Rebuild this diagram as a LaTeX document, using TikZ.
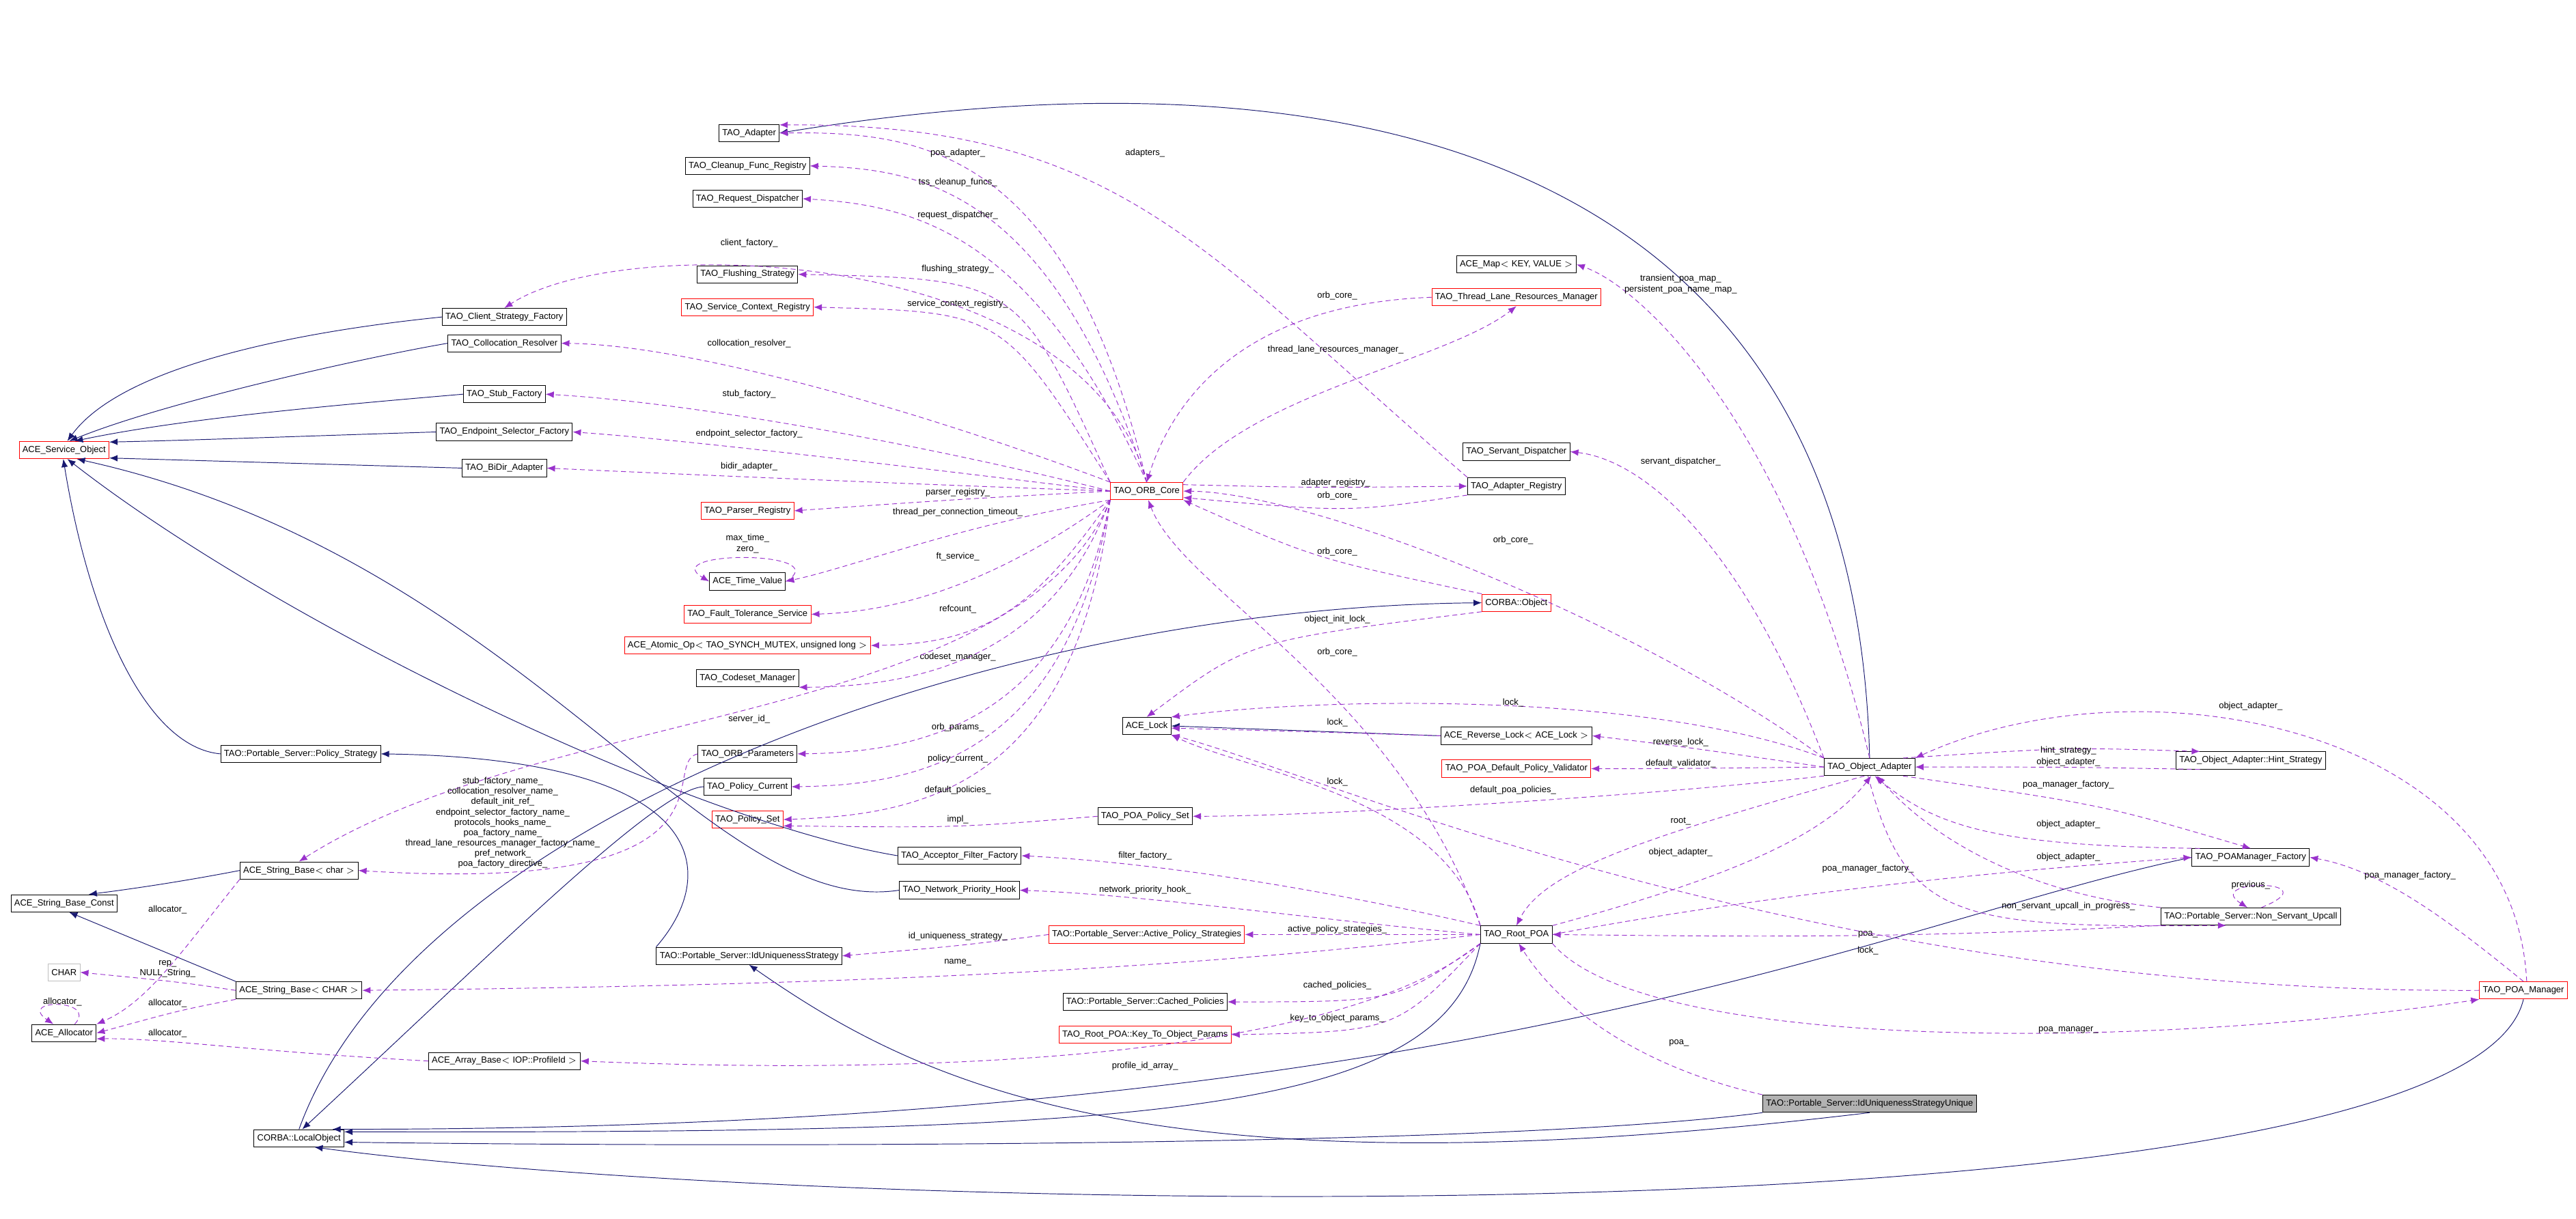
\documentclass[tikz,border=0pt]{standalone}
\usepackage{fontspec}
\setmainfont{Liberation Sans}
\usetikzlibrary{arrows.meta}

\definecolor{isablue}{RGB}{25,25,112}
\definecolor{usesviolet}{RGB}{153,50,204}
\tikzset{
	cls/.style={draw, font=\fontsize{5.4}{6}\selectfont, inner xsep=2pt, inner ysep=1pt, minimum height=10.5pt, line width=0.4pt},
	redcls/.style={cls, draw=red},
	greycls/.style={cls, draw=gray!50},
	curcls/.style={cls, fill=gray!60},
	isa/.style={draw=isablue, line width=0.4pt, -{Latex[length=5pt,width=4pt]}},
	uses/.style={draw=usesviolet, line width=0.4pt, dash pattern=on 3pt off 2pt, -{Latex[length=5pt,width=4pt]}},
	lbl/.style={font=\fontsize{5.4}{6.3}\selectfont, inner sep=0.5pt, align=center}
}

\begin{document}
\begin{tikzpicture}[x=1pt,y=-1pt]
		\useasboundingbox (0,0) rectangle (1568,742);
		% classes, left part
		\node[redcls] (sobj) at (39,274) {ACE\_Service\_Object};
		\node[cls] (csf) at (307,193) {TAO\_Client\_Strategy\_Factory};
		\node[cls] (colres) at (307,209) {TAO\_Collocation\_Resolver};
		\node[cls] (stubf) at (307,240) {TAO\_Stub\_Factory};
		\node[cls] (esf) at (307,263) {TAO\_Endpoint\_Selector\_Factory};
		\node[cls] (bidir) at (307,285) {TAO\_BiDir\_Adapter};
		\node[cls] (pstrat) at (183,459) {TAO::Portable\_Server::Policy\_Strategy};
		\node[cls] (sbchar) at (182,530) {ACE\_String\_Base$<$ char $>$};
		\node[cls] (sbconst) at (39,550) {ACE\_String\_Base\_Const};
		\node[greycls] (chr) at (39,592) {CHAR};
		\node[cls] (sbCHAR) at (182,603) {ACE\_String\_Base$<$ CHAR $>$};
		\node[cls] (alloc) at (39,629) {ACE\_Allocator};
		\node[cls] (arrb) at (307,646) {ACE\_Array\_Base$<$ IOP::ProfileId $>$};
		\node[cls] (lobj) at (182,693) {CORBA::LocalObject};
		% classes, second column
		\node[cls] (adapter) at (456,81) {TAO\_Adapter};
		\node[cls] (cleanup) at (455,101) {TAO\_Cleanup\_Func\_Registry};
		\node[cls] (reqdisp) at (455,121) {TAO\_Request\_Dispatcher};
		\node[cls] (flush) at (455,167) {TAO\_Flushing\_Strategy};
		\node[redcls] (scr) at (455,187) {TAO\_Service\_Context\_Registry};
		\node[redcls] (parser) at (455,311) {TAO\_Parser\_Registry};
		\node[cls] (tval) at (455,354) {ACE\_Time\_Value};
		\node[redcls] (ftserv) at (455,374) {TAO\_Fault\_Tolerance\_Service};
		\node[redcls] (atomic) at (455,393) {ACE\_Atomic\_Op$<$ TAO\_SYNCH\_MUTEX, unsigned long $>$};
		\node[cls] (codeset) at (455,413) {TAO\_Codeset\_Manager};
		\node[cls] (orbparams) at (455,459) {TAO\_ORB\_Parameters};
		\node[cls] (polcur) at (455,479) {TAO\_Policy\_Current};
		\node[redcls] (polset) at (455,499) {TAO\_Policy\_Set};
		\node[cls] (idus) at (456,582) {TAO::Portable\_Server::IdUniquenessStrategy};
		\node[cls] (aff) at (584,521) {TAO\_Acceptor\_Filter\_Factory};
		\node[cls] (nph) at (584,542) {TAO\_Network\_Priority\_Hook};
		% classes, middle
		\node[redcls] (core) at (698,299) {TAO\_ORB\_Core};
		\node[cls] (lock) at (698,442) {ACE\_Lock};
		\node[cls] (poaps) at (697,497) {TAO\_POA\_Policy\_Set};
		\node[redcls] (aps) at (698,569) {TAO::Portable\_Server::Active\_Policy\_Strategies};
		\node[cls] (cached) at (697,610) {TAO::Portable\_Server::Cached\_Policies};
		\node[redcls] (ktop) at (697,630) {TAO\_Root\_POA::Key\_To\_Object\_Params};
		\node[cls] (amap) at (923,161) {ACE\_Map$<$ KEY, VALUE $>$};
		\node[redcls] (tlrm) at (923,181) {TAO\_Thread\_Lane\_Resources\_Manager};
		\node[cls] (sdisp) at (923,275) {TAO\_Servant\_Dispatcher};
		\node[cls] (areg) at (923,296) {TAO\_Adapter\_Registry};
		\node[redcls] (cobj) at (923,367) {CORBA::Object};
		\node[cls] (rlock) at (923,448) {ACE\_Reverse\_Lock$<$ ACE\_Lock $>$};
		\node[redcls] (dpv) at (923,468) {TAO\_POA\_Default\_Policy\_Validator};
		\node[cls] (rpoa) at (923,569) {TAO\_Root\_POA};
		% classes, right part
		\node[cls] (oa) at (1138,467) {TAO\_Object\_Adapter};
		\node[curcls] (idusu) at (1138,672) {TAO::Portable\_Server::IdUniquenessStrategyUnique};
		\node[cls] (hint) at (1370,463) {TAO\_Object\_Adapter::Hint\_Strategy};
		\node[cls] (pmf) at (1370,522) {TAO\_POAManager\_Factory};
		\node[cls] (nsu) at (1370,558) {TAO::Portable\_Server::Non\_Servant\_Upcall};
		\node[redcls] (pman) at (1536,603) {TAO\_POA\_Manager};
		% inheritance
		\draw[isa] (csf.west) .. controls (220,198) and (80,215) .. (sobj.70);
		\draw[isa] (colres.west) .. controls (220,218) and (100,245) .. (sobj.60);
		\draw[isa] (stubf.west) .. controls (200,247) and (110,255) .. (sobj.40);
		\draw[isa] (esf.west) .. controls (200,265) and (120,268) .. (sobj.10);
		\draw[isa] (bidir.west) -- (sobj.-10);
		\draw[isa] (pstrat.west) .. controls (90,455) and (55,380) .. (sobj.-95);
		\draw[isa] (aff.west) .. controls (420,500) and (170,380) .. (sobj.-70);
		\draw[isa] (nph.west) .. controls (430,560) and (320,340) .. (sobj.-35);
		\draw[isa] (sbchar.west) .. controls (120,535) and (90,540) .. (sbconst.20);
		\draw[isa] (sbCHAR.north west) -- (sbconst.-60);
		\draw[isa] (oa.north) .. controls (1130,110) and (850,20) .. (adapter.east);
		\draw[isa] (rlock.west) -- (lock.east);
		\draw[isa] (idus.north west) .. controls (440,530) and (430,462) .. (pstrat.east);
		\draw[isa] (polcur.west) .. controls (400,480) and (300,580) .. (lobj.70);
		\draw[isa] (lobj.north) .. controls (250,500) and (600,370) .. (cobj.west);
		\draw[isa] (rpoa.south west) .. controls (880,680) and (700,690) .. (lobj.8);
		\draw[isa] (pmf.west) .. controls (1150,560) and (900,688) .. (lobj.15);
		\draw[isa] (idusu.south west) .. controls (900,700) and (400,698) .. (lobj.-5);
		\draw[isa] (pman.south) .. controls (1500,760) and (500,740) .. (lobj.-30);
		\draw[isa] (idusu.south) .. controls (700,730) and (560,660) .. (idus.south);
		% usage from the ORB core
		\draw[uses] (core.north) .. controls (650,90) and (560,80) .. (adapter.east);
		\node[lbl] (l1) at (583,93) {poa\_adapter\_};
		\draw[uses] (core.north) .. controls (640,115) and (560,103) .. (cleanup.east);
		\node[lbl] (l2) at (583,111) {tss\_cleanup\_funcs\_};
		\draw[uses] (core.north) .. controls (630,145) and (560,125) .. (reqdisp.east);
		\node[lbl] (l3) at (583,131) {request\_dispatcher\_};
		\draw[uses] (core.north) .. controls (660,150) and (380,140) .. (csf.north);
		\node[lbl] (l4) at (456,148) {client\_factory\_};
		\draw[uses] (core.north west) .. controls (620,170) .. (flush.east);
		\node[lbl] (l5) at (583,164) {flushing\_strategy\_};
		\draw[uses] (core.north west) .. controls (610,190) .. (scr.east);
		\node[lbl] (l6) at (583,185) {service\_context\_registry\_};
		\draw[uses] (core.north west) .. controls (560,250) and (420,210) .. (colres.east);
		\node[lbl] (l7) at (456,209) {collocation\_resolver\_};
		\draw[uses] (core.west) .. controls (560,270) and (420,245) .. (stubf.east);
		\node[lbl] (l8) at (456,240) {stub\_factory\_};
		\draw[uses] (core.west) .. controls (560,285) and (420,268) .. (esf.east);
		\node[lbl] (l9) at (456,264) {endpoint\_selector\_factory\_};
		\draw[uses] (core.west) .. controls (560,295) and (420,289) .. (bidir.east);
		\node[lbl] (l10) at (456,284) {bidir\_adapter\_};
		\draw[uses] (core.west) .. controls (583,304) .. (parser.east);
		\node[lbl] (l11) at (583,300) {parser\_registry\_};
		\draw[uses] (core.south west) .. controls (583,320) and (520,345) .. (tval.east);
		\node[lbl] (l12) at (583,312) {thread\_per\_connection\_timeout\_};
		\draw[uses] (tval.east) .. controls (510,335) and (400,335) .. (tval.west);
		\node[lbl] (l13) at (455,331) {max\_time\_\\zero\_};
		\draw[uses] (core.south west) .. controls (620,345) and (560,372) .. (ftserv.east);
		\node[lbl] (l14) at (583,339) {ft\_service\_};
		\draw[uses] (core.south west) .. controls (630,370) and (600,392) .. (atomic.east);
		\node[lbl] (l15) at (583,371) {refcount\_};
		\draw[uses] (core.south west) .. controls (640,400) and (560,418) .. (codeset.south east);
		\node[lbl] (l16) at (583,400) {codeset\_manager\_};
		\draw[uses] (core.south west) .. controls (620,440) and (330,430) .. (sbchar.north);
		\node[lbl] (l17) at (456,438) {server\_id\_};
		\draw[uses] (core.south west) .. controls (650,440) and (560,458) .. (orbparams.east);
		\node[lbl] (l18) at (583,443) {orb\_params\_};
		\draw[uses] (core.south west) .. controls (650,460) and (560,478) .. (polcur.east);
		\node[lbl] (l19) at (583,462) {policy\_current\_};
		\draw[uses] (core.south west) .. controls (655,480) and (560,496) .. (polset.east);
		\node[lbl] (l20) at (583,481) {default\_policies\_};
		\draw[uses] (poaps.west) .. controls (583,504) .. (polset.-10);
		\node[lbl] (l21) at (583,499) {impl\_};
		% string and allocator usage
		\draw[uses] (orbparams.west) .. controls (400,465) and (460,545) .. (sbchar.east);
		\node[lbl] (l22) at (306,501) {stub\_factory\_name\_\\collocation\_resolver\_name\_\\default\_init\_ref\_\\endpoint\_selector\_factory\_name\_\\protocols\_hooks\_name\_\\poa\_factory\_name\_\\thread\_lane\_resources\_manager\_factory\_name\_\\pref\_network\_\\poa\_factory\_directive\_};
		\draw[uses] (sbchar.south west) .. controls (110,580) and (90,610) .. (alloc.north east);
		\node[lbl] (l23) at (102,554) {allocator\_};
		\draw[uses] (sbCHAR.west) .. controls (110,598) .. (chr.east);
		\node[lbl] (l24) at (102,590) {rep\_\\NULL\_String\_};
		\draw[uses] (sbCHAR.south west) .. controls (110,615) .. (alloc.east);
		\node[lbl] (l25) at (102,611) {allocator\_};
		\draw[uses] (alloc.40) .. controls (60,608) and (10,608) .. (alloc.140);
		\node[lbl] (l26) at (38,610) {allocator\_};
		\draw[uses] (arrb.west) .. controls (150,640) and (100,632) .. (alloc.-10);
		\node[lbl] (l27) at (102,629) {allocator\_};
		% registry, lanes and objects
		\draw[uses] (areg.north west) .. controls (730,150) and (680,75) .. (adapter.15);
		\node[lbl] (l28) at (697,93) {adapters\_};
		\draw[uses] (tlrm.west) .. controls (760,185) and (715,240) .. (core.north);
		\node[lbl] (l29) at (814,180) {orb\_core\_};
		\draw[uses] (core.north east) .. controls (760,240) and (880,220) .. (tlrm.south);
		\node[lbl] (l30) at (813,213) {thread\_lane\_resources\_manager\_};
		\draw[uses] (core.10) .. controls (800,297) .. (areg.west);
		\node[lbl] (l31) at (813,294) {adapter\_registry\_};
		\draw[uses] (areg.south west) .. controls (820,312) .. (core.-10);
		\node[lbl] (l32) at (814,302) {orb\_core\_};
		\draw[uses] (cobj.north west) .. controls (800,340) .. (core.south east);
		\node[lbl] (l33) at (814,336) {orb\_core\_};
		\draw[uses] (cobj.south west) .. controls (760,390) .. (lock.north);
		\node[lbl] (l34) at (814,377) {object\_init\_lock\_};
		\draw[uses] (rpoa.north west) .. controls (850,420) and (720,360) .. (core.-80);
		\node[lbl] (l35) at (814,397) {orb\_core\_};
		\draw[uses] (rlock.west) .. controls (814,446) .. (lock.-5);
		\node[lbl] (l36) at (814,440) {lock\_};
		\draw[uses] (rpoa.north west) .. controls (880,485) and (760,470) .. (lock.south east);
		\node[lbl] (l37) at (814,476) {lock\_};
		% usage from the object adapter
		\draw[uses] (oa.north) .. controls (1090,260) and (1000,175) .. (amap.east);
		\node[lbl] (l38) at (1023,173) {transient\_poa\_map\_\\persistent\_poa\_name\_map\_};
		\draw[uses] (oa.north west) .. controls (1060,330) and (1000,280) .. (sdisp.east);
		\node[lbl] (l39) at (1023,281) {servant\_dispatcher\_};
		\draw[uses] (oa.north west) .. controls (1000,380) and (800,300) .. (core.east);
		\node[lbl] (l40) at (921,329) {orb\_core\_};
		\draw[uses] (oa.north west) .. controls (1000,420) and (800,425) .. (lock.20);
		\node[lbl] (l41) at (921,428) {lock\_};
		\draw[uses] (oa.west) .. controls (1020,454) .. (rlock.east);
		\node[lbl] (l42) at (1023,452) {reverse\_lock\_};
		\draw[uses] (oa.west) .. controls (1020,468) .. (dpv.east);
		\node[lbl] (l43) at (1023,465) {default\_validator\_};
		\draw[uses] (oa.south west) .. controls (1000,485) and (800,497) .. (poaps.east);
		\node[lbl] (l44) at (921,481) {default\_poa\_policies\_};
		\draw[uses] (oa.-120) .. controls (1000,510) and (940,530) .. (rpoa.north);
		\node[lbl] (l45) at (1023,500) {root\_};
		\draw[uses] (rpoa.north east) .. controls (1050,535) and (1110,510) .. (oa.-80);
		\node[lbl] (l46) at (1023,519) {object\_adapter\_};
		\draw[uses] (oa.15) .. controls (1259,455) .. (hint.170);
		\node[lbl] (l47) at (1259,457) {hint\_strategy\_};
		\draw[uses] (hint.-170) .. controls (1259,467) .. (oa.east);
		\node[lbl] (l48) at (1259,464) {object\_adapter\_};
		\draw[uses] (oa.-15) .. controls (1280,490) .. (pmf.north);
		\node[lbl] (l49) at (1259,478) {poa\_manager\_factory\_};
		\draw[uses] (pmf.170) .. controls (1220,515) and (1180,505) .. (oa.-60);
		\node[lbl] (l50) at (1259,502) {object\_adapter\_};
		\draw[uses] (nsu.north west) .. controls (1240,545) and (1180,515) .. (oa.-50);
		\node[lbl] (l51) at (1259,522) {object\_adapter\_};
		\draw[uses] (oa.-100) .. controls (1160,560) and (1190,565) .. (nsu.-160);
		\node[lbl] (l52) at (1259,552) {non\_servant\_upcall\_in\_progress\_};
		\draw[uses] (nsu.40) .. controls (1420,535) and (1340,535) .. (nsu.110);
		\node[lbl] (l53) at (1370,539) {previous\_};
		% usage from the root poa
		\draw[uses] (rpoa.north west) .. controls (800,540) and (700,525) .. (aff.east);
		\node[lbl] (l54) at (697,521) {filter\_factory\_};
		\draw[uses] (rpoa.west) .. controls (800,560) and (700,545) .. (nph.east);
		\node[lbl] (l55) at (697,542) {network\_priority\_hook\_};
		\draw[uses] (rpoa.west) -- (aps.east);
		\node[lbl] (l56) at (814,566) {active\_policy\_strategies\_};
		\draw[uses] (aps.west) .. controls (583,576) .. (idus.east);
		\node[lbl] (l57) at (583,570) {id\_uniqueness\_strategy\_};
		\draw[uses] (rpoa.west) .. controls (700,592) and (500,600) .. (sbCHAR.east);
		\node[lbl] (l58) at (583,586) {name\_};
		\draw[uses] (rpoa.south west) .. controls (850,610) .. (cached.east);
		\node[lbl] (l59) at (814,600) {cached\_policies\_};
		\draw[uses] (rpoa.south west) .. controls (850,628) .. (ktop.east);
		\node[lbl] (l60) at (814,620) {key\_to\_object\_params\_};
		\draw[uses] (rpoa.south west) .. controls (800,655) and (500,652) .. (arrb.east);
		\node[lbl] (l61) at (697,649) {profile\_id\_array\_};
		\draw[uses] (rpoa.east) .. controls (1100,540) and (1250,528) .. (pmf.west);
		\node[lbl] (l62) at (1137,529) {poa\_manager\_factory\_};
		\draw[uses] (nsu.south west) .. controls (1150,572) and (1050,570) .. (rpoa.east);
		\node[lbl] (l63) at (1137,569) {poa\_};
		\draw[uses] (pman.west) .. controls (1100,605) and (800,470) .. (lock.-20);
		\node[lbl] (l64) at (1137,579) {lock\_};
		\draw[uses] (rpoa.south east) .. controls (1000,640) and (1300,640) .. (pman.south west);
		\node[lbl] (l65) at (1259,627) {poa\_manager\_};
		\draw[uses] (pman.north) .. controls (1490,560) and (1450,530) .. (pmf.east);
		\node[lbl] (l66) at (1467,533) {poa\_manager\_factory\_};
		\draw[uses] (pman.70) .. controls (1530,440) and (1300,400) .. (oa.north east);
		\node[lbl] (l67) at (1370,430) {object\_adapter\_};
		\draw[uses] (idusu.north west) .. controls (1000,650) and (950,615) .. (rpoa.-75);
		\node[lbl] (l68) at (1022,635) {poa\_};
	\end{tikzpicture}
\end{document}
